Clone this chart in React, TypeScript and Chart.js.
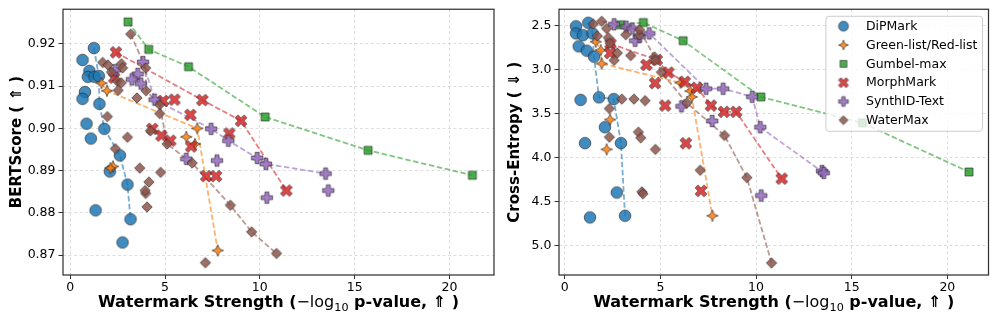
import React, { useEffect, useRef } from 'react';
import { Chart, registerables } from 'chart.js';

Chart.register(...registerables);

const FONT = "'DejaVu Sans', sans-serif";

const methods = ['DiPMark', 'Green-list/Red-list', 'Gumbel-max', 'MorphMark', 'SynthID-Text', 'WaterMax'];
const colors = ['#1f77b4', '#ff7f0e', '#2ca02c', '#d62728', '#9467bd', '#8c564b'];
const shapes = ['circle', 'star4', 'square', 'xfill', 'plusfill', 'diamond'];

const xTicks = [0, 5, 10, 15, 20];
const bertTicks = [0.87, 0.88, 0.89, 0.9, 0.91, 0.92];
const ceTicks = [2.5, 3.0, 3.5, 4.0, 4.5, 5.0];

// x-axis title pieces: [text, style]
const xTitleParts: [string, string][] = [
  ['Watermark Strength (', 'bold'],
  ['\u2212log', 'regular'],
  ['10', 'sub'],
  [' p-value, \u21D1 )', 'bold'],
];
const bertTitle = 'BERTScore ( \u21D1 )';
const ceTitle = 'Cross-Entropy ( \u21D3 )';

// ---- Left panel: [watermark strength, BERTScore] ----
const dipmarkBert = [
  [1.25, 0.919], [0.65, 0.9162], [1.01, 0.9136], [0.93, 0.9122], [1.28, 0.9122], [1.51, 0.9124],
  [0.78, 0.9086], [0.65, 0.907], [1.54, 0.9058], [0.86, 0.9011], [1.8, 0.8999], [1.09, 0.8976],
  [2.62, 0.8936], [2.09, 0.8898], [3.02, 0.8867], [1.34, 0.8806], [3.18, 0.8785], [2.76, 0.873],
];
const dipmarkBertFront = [0, 5, 8, 10, 12, 14, 16];

const greenBert = [
  [1.65, 0.9107], [1.94, 0.9089], [2.26, 0.891], [2.12, 0.8906], [6.7, 0.9], [6.12, 0.898],
  [6.58, 0.8963], [7.78, 0.8711],
];
const greenBertFront = [0, 1, 4, 7];

const gumbelBert = [
  [3.05, 0.9252], [4.14, 0.9187], [6.24, 0.9146], [10.28, 0.9027], [15.71, 0.8948], [21.21, 0.8889],
];
const gumbelBertFront = [0, 1, 2, 3, 4, 5];

const morphBert = [
  [2.41, 0.918], [2.32, 0.912], [4.9, 0.9065], [5.5, 0.9068], [6.97, 0.9067], [6.34, 0.9032],
  [9.01, 0.9018], [8.39, 0.8988], [4.33, 0.8999], [4.81, 0.8983], [5.28, 0.8971], [6.38, 0.8957],
  [7.17, 0.8887], [7.69, 0.8887], [11.4, 0.8853],
];
const morphBertFront = [0, 4, 6, 14];

const synthBert = [
  [2.37, 0.9138], [3.84, 0.9157], [3.56, 0.9129], [3.25, 0.9116], [3.73, 0.9106], [4.45, 0.9068],
  [7.43, 0.8999], [8.34, 0.8971], [9.86, 0.893], [10.32, 0.8916], [13.47, 0.8893], [13.61, 0.8853],
  [6.12, 0.8928], [7.74, 0.8924], [10.37, 0.8836],
];
const synthBertFront = [1, 5, 6, 7, 8, 9, 10];

const waterBert = [
  [3.19, 0.9223], [1.71, 0.9156], [1.99, 0.915], [2.7, 0.9153], [2.76, 0.9143], [2.17, 0.9133],
  [2.48, 0.9112], [2.69, 0.9108], [2.53, 0.909], [3.98, 0.9143], [4.0, 0.9089], [3.52, 0.9072],
  [4.72, 0.9056], [4.72, 0.9035], [1.96, 0.9028], [4.23, 0.8994], [5.11, 0.8963], [3.02, 0.8979],
  [2.38, 0.8952], [3.67, 0.8906], [4.77, 0.8896], [4.15, 0.8873], [3.98, 0.8846], [3.95, 0.8853],
  [4.05, 0.8814], [6.43, 0.8918], [8.45, 0.8818], [9.57, 0.8755], [10.88, 0.8704], [7.13, 0.8682],
];
const waterBertFront = [0, 9, 10, 12, 16, 25, 26, 27, 28];

// ---- Right panel: [watermark strength, cross-entropy] ----
const dipmarkCe = [
  [0.59, 2.506], [1.23, 2.466], [0.59, 2.587], [0.95, 2.607], [1.45, 2.587], [0.73, 2.734],
  [1.15, 2.783], [1.53, 2.851], [0.83, 3.343], [1.79, 3.314], [2.56, 3.334], [2.1, 3.654],
  [1.06, 3.835], [2.94, 3.835], [2.72, 4.397], [1.32, 4.68], [3.15, 4.661],
];
const dipmarkCeFront = [1, 4, 7, 9, 10, 13, 16];

const greenCe = [
  [1.62, 2.681], [1.88, 2.777], [1.93, 2.93], [6.05, 3.148], [6.57, 3.243], [6.64, 3.309],
  [2.37, 3.567], [2.19, 3.906], [7.72, 4.661],
];
const greenCeFront = [0, 1, 2, 3, 4, 5, 8];

const gumbelCe = [
  [2.92, 2.489], [4.11, 2.463], [6.19, 2.67], [10.25, 3.309], [15.56, 3.605], [21.13, 4.163],
];
const gumbelCeFront = [0, 1, 2, 3, 4, 5];

const morphCe = [
  [2.39, 2.704], [2.37, 2.811], [4.27, 2.945], [4.81, 2.888], [5.42, 3.032], [4.72, 3.153],
  [5.25, 3.408], [6.27, 3.137], [6.91, 3.205], [7.64, 3.408], [8.32, 3.479], [8.96, 3.479],
  [6.33, 3.837], [7.12, 4.378], [11.34, 4.239],
];
const morphCeFront = [0, 3, 4, 7, 8, 9, 10, 11, 14];

const synthCe = [
  [2.58, 2.483], [3.22, 2.511], [3.54, 2.531], [3.68, 2.67], [3.92, 2.624], [4.42, 2.587],
  [7.39, 3.216], [8.28, 3.216], [9.8, 3.307], [6.1, 3.416], [7.71, 3.583], [10.22, 3.654],
  [13.45, 4.152], [13.54, 4.174], [10.27, 4.431],
];
const synthCeFront = [0, 1, 2, 5, 6, 7, 8, 11, 13];

const waterCe = [
  [1.49, 2.481], [1.93, 2.449], [2.19, 2.531], [1.7, 2.617], [2.28, 2.636], [2.37, 2.7],
  [2.75, 2.809], [2.58, 2.893], [3.19, 2.602], [3.45, 2.839], [3.9, 2.605], [3.91, 2.545],
  [4.69, 2.854], [4.74, 2.893], [5.05, 3.028], [2.98, 3.334], [3.62, 3.334], [4.2, 3.352],
  [2.33, 3.442], [2.33, 3.767], [3.85, 3.71], [3.97, 3.775], [4.74, 3.906], [6.38, 3.379],
  [8.35, 3.748], [7.08, 4.144], [4.03, 4.389], [4.09, 4.412], [9.52, 4.227], [10.81, 5.198],
];
const waterCeFront = [1, 11, 12, 14, 23, 24, 28, 29];

const bertPoints = [dipmarkBert, greenBert, gumbelBert, morphBert, synthBert, waterBert];
const bertFronts = [dipmarkBertFront, greenBertFront, gumbelBertFront, morphBertFront, synthBertFront, waterBertFront];
const cePoints = [dipmarkCe, greenCe, gumbelCe, morphCe, synthCe, waterCe];
const ceFronts = [dipmarkCeFront, greenCeFront, gumbelCeFront, morphCeFront, synthCeFront, waterCeFront];

function rgba(hex: string, a: number) {
  const n = parseInt(hex.slice(1), 16);
  return `rgba(${(n >> 16) & 255},${(n >> 8) & 255},${n & 255},${a})`;
}

function makeMarker(shape: string, color: string, scale = 1): HTMLCanvasElement {
  const size = 22;
  const c = document.createElement('canvas');
  c.width = size;
  c.height = size;
  const g = c.getContext('2d') as CanvasRenderingContext2D;
  g.translate(size / 2, size / 2);
  g.scale(scale, scale);
  g.beginPath();
  if (shape === 'circle') {
    g.arc(0, 0, 5.8, 0, Math.PI * 2);
  } else if (shape === 'square') {
    g.rect(-4, -4, 8, 8);
  } else if (shape === 'diamond') {
    g.moveTo(0, -5.2); g.lineTo(5.2, 0); g.lineTo(0, 5.2); g.lineTo(-5.2, 0);
  } else if (shape === 'star4') {
    const ro = 5.8, ri = 2.4;
    for (let k = 0; k < 8; k++) {
      const r = k % 2 === 0 ? ro : ri;
      const ang = -Math.PI / 2 + (k * Math.PI) / 4;
      const px = r * Math.cos(ang), py = r * Math.sin(ang);
      if (k === 0) g.moveTo(px, py); else g.lineTo(px, py);
    }
  } else if (shape === 'plusfill' || shape === 'xfill') {
    const a = shape === 'plusfill' ? 5.7 : 6.3, w = 2.0;
    const pts = [[-w, -a], [w, -a], [w, -w], [a, -w], [a, w], [w, w], [w, a], [-w, a], [-w, w], [-a, w], [-a, -w], [-w, -w]];
    const rot = shape === 'xfill' ? Math.PI / 4 : 0;
    pts.forEach(([px, py], k) => {
      const rx = px * Math.cos(rot) - py * Math.sin(rot);
      const ry = px * Math.sin(rot) + py * Math.cos(rot);
      if (k === 0) g.moveTo(rx, ry); else g.lineTo(rx, ry);
    });
  }
  g.closePath();
  g.globalAlpha = 0.85;
  g.fillStyle = color;
  g.fill();
  g.globalAlpha = 1;
  g.strokeStyle = 'rgba(40,40,40,0.85)';
  g.lineWidth = 0.75 / scale;
  g.stroke();
  return c;
}

const framePlugin = {
  id: 'frame',
  afterDraw(chart: any) {
    const { ctx, chartArea } = chart;
    ctx.save();
    ctx.strokeStyle = '#333';
    ctx.lineWidth = 1.25;
    ctx.strokeRect(chartArea.left, chartArea.top, chartArea.right - chartArea.left, chartArea.bottom - chartArea.top);
    ctx.restore();
  },
};

const xTitlePlugin = {
  id: 'xTitle',
  afterDraw(chart: any) {
    const { ctx, chartArea } = chart;
    const fs = 16;
    const fontFor = (st: string) =>
      st === 'bold' ? `bold ${fs}px ${FONT}` : st === 'sub' ? `${fs * 0.7}px ${FONT}` : `${fs}px ${FONT}`;
    ctx.save();
    const widths = xTitleParts.map(([t, st]) => { ctx.font = fontFor(st); return ctx.measureText(t).width; });
    const total = widths.reduce((a, b) => a + b, 0);
    let x = (chartArea.left + chartArea.right) / 2 - total / 2;
    const y = 307;
    ctx.fillStyle = '#000';
    ctx.textBaseline = 'alphabetic';
    ctx.textAlign = 'left';
    xTitleParts.forEach(([t, st], i) => {
      ctx.font = fontFor(st);
      ctx.fillText(t, x, st === 'sub' ? y + 3.5 : y);
      x += widths[i];
    });
    ctx.restore();
  },
};

function makeLegendPlugin(markers: HTMLCanvasElement[]) {
  return {
    id: 'customLegend',
    afterDraw(chart: any) {
      const { ctx, chartArea } = chart;
      const fs = 12.5;
      ctx.save();
      ctx.font = `${fs}px ${FONT}`;
      const maxW = Math.max(...methods.map((m) => ctx.measureText(m).width));
      const pad = 0.4 * fs, handle = 2 * fs, gap = 0.8 * fs, rowH = 18.8;
      const right = chartArea.right - 6;
      const top = chartArea.top + 7;
      const width = pad + handle + gap + maxW + pad;
      const left = right - width;
      const height = 10 + rowH * (methods.length - 1) + 11;
      const r = 3;
      ctx.beginPath();
      ctx.moveTo(left + r, top);
      ctx.lineTo(right - r, top);
      ctx.arcTo(right, top, right, top + r, r);
      ctx.lineTo(right, top + height - r);
      ctx.arcTo(right, top + height, right - r, top + height, r);
      ctx.lineTo(left + r, top + height);
      ctx.arcTo(left, top + height, left, top + height - r, r);
      ctx.lineTo(left, top + r);
      ctx.arcTo(left, top, left + r, top, r);
      ctx.closePath();
      ctx.fillStyle = 'rgba(255,255,255,0.8)';
      ctx.fill();
      ctx.strokeStyle = '#cccccc';
      ctx.lineWidth = 1;
      ctx.stroke();
      ctx.textBaseline = 'middle';
      ctx.textAlign = 'left';
      ctx.fillStyle = '#000';
      methods.forEach((m, i) => {
        const cy = top + 10 + i * rowH;
        const mx = left + pad + handle / 2;
        const mk = markers[i];
        ctx.drawImage(mk, mx - mk.width / 2, cy - mk.height / 2);
        ctx.fillText(m, left + pad + handle + gap, cy + 0.5);
      });
      ctx.restore();
    },
  };
}

interface PanelOpts {
  points: number[][][];
  fronts: number[][];
  xMin: number; xMax: number;
  yMin: number; yMax: number;
  yTicks: number[];
  yDigits: number;
  yTitle: string;
  reverse: boolean;
  yWidth: number;
  padRight: number;
  yTitlePad: number;
  markers: HTMLCanvasElement[];
  extraPlugins: any[];
}

function buildConfig(o: PanelOpts): any {
  const datasets: any[] = [];
  o.points.forEach((pts, m) => {
    const front = o.fronts[m].map((i) => pts[i]).sort((a, b) => a[0] - b[0]);
    datasets.push({
      label: methods[m] + ' front',
      data: front.map(([x, y]) => ({ x, y })),
      showLine: true,
      pointRadius: 0,
      borderColor: rgba(colors[m], 0.6),
      borderWidth: 1.8,
      borderDash: [5.5, 2.6],
      fill: false,
      order: 30 - m,
    });
  });
  o.points.forEach((pts, m) => {
    datasets.push({
      label: methods[m],
      data: pts.map(([x, y]) => ({ x, y })),
      pointStyle: o.markers[m],
      pointRadius: 5,
      showLine: false,
      order: 10 - m,
    });
  });
  const tickFont = { family: FONT, size: 12.5, lineHeight: 1.0 };
  const titleFont = { family: FONT, size: 15, weight: 'bold' };
  return {
    type: 'scatter',
    data: { datasets },
    plugins: [framePlugin, xTitlePlugin, ...o.extraPlugins],
    options: {
      responsive: false,
      animation: false,
      events: [],
      layout: { padding: { top: 7.5, right: o.padRight, left: 0, bottom: 0 } },
      plugins: { legend: { display: false }, tooltip: { enabled: false } },
      scales: {
        x: {
          type: 'linear',
          min: o.xMin,
          max: o.xMax,
          afterBuildTicks: (s: any) => { s.ticks = xTicks.map((v) => ({ value: v })); },
          afterFit: (s: any) => { s.height = 50; },
          ticks: { font: tickFont, color: '#000', padding: 2, maxRotation: 0, callback: (v: any) => String(v) },
          grid: { color: '#d4d4d4', lineWidth: 0.8, tickColor: '#333', tickLength: 4, tickWidth: 1 },
          border: { display: false, dash: [3, 2.5] },
          title: { display: false },
        },
        y: {
          type: 'linear',
          min: o.yMin,
          max: o.yMax,
          reverse: o.reverse,
          afterBuildTicks: (s: any) => { s.ticks = o.yTicks.map((v) => ({ value: v })); },
          afterFit: (s: any) => { s.width = o.yWidth; },
          ticks: { font: tickFont, color: '#000', padding: 3, callback: (v: any) => Number(v).toFixed(o.yDigits) },
          grid: { color: '#d4d4d4', lineWidth: 0.8, tickColor: '#333', tickLength: 4.5, tickWidth: 1 },
          border: { display: false, dash: [3, 2.5] },
          title: { display: true, text: o.yTitle, font: titleFont, color: '#000', padding: { top: o.yTitlePad, bottom: 0 } },
        },
      },
    },
  };
}

export default function App() {
  const leftRef = useRef<HTMLCanvasElement>(null);
  const rightRef = useRef<HTMLCanvasElement>(null);

  useEffect(() => {
    const markers = shapes.map((s, i) => makeMarker(s, colors[i], 1));
    const legendMarkers = shapes.map((s, i) => makeMarker(s, colors[i], 0.85));
    const left = new Chart(leftRef.current as HTMLCanvasElement, buildConfig({
      points: bertPoints, fronts: bertFronts,
      xMin: -0.38, xMax: 22.35, yMin: 0.8653, yMax: 0.9282,
      yTicks: bertTicks, yDigits: 2, yTitle: bertTitle, reverse: false,
      yWidth: 63, padRight: 4, yTitlePad: 8, markers, extraPlugins: [],
    }));
    const right = new Chart(rightRef.current as HTMLCanvasElement, buildConfig({
      points: cePoints, fronts: ceFronts,
      xMin: -0.3, xMax: 22.15, yMin: 2.312, yMax: 5.335,
      yTicks: ceTicks, yDigits: 1, yTitle: ceTitle, reverse: true,
      yWidth: 59, padRight: 7.5, yTitlePad: 6, markers, extraPlugins: [makeLegendPlugin(legendMarkers)],
    }));
    return () => { left.destroy(); right.destroy(); };
  }, []);

  return (
    <div style={{ position: 'fixed', left: 0, top: 0, width: 996, height: 325, background: '#fff' }}>
      <canvas ref={leftRef} width={500} height={325} style={{ position: 'absolute', left: 0, top: 0, width: 500, height: 325 }} />
      <canvas ref={rightRef} width={496} height={325} style={{ position: 'absolute', left: 500, top: 0, width: 496, height: 325 }} />
    </div>
  );
}
